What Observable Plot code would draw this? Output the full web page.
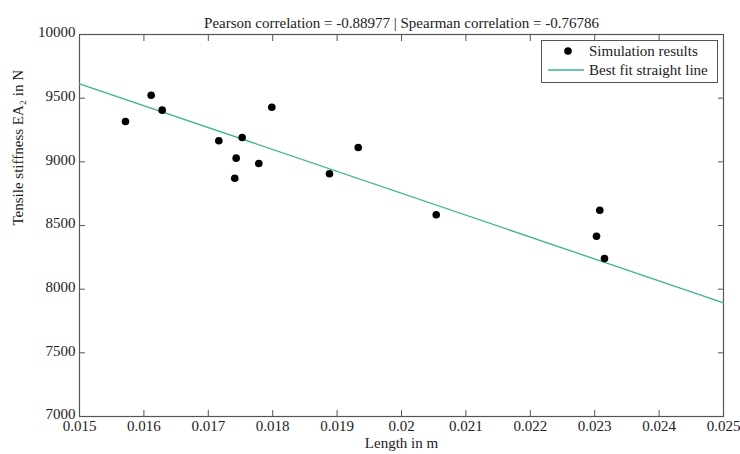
<!DOCTYPE html>
<html>
<head>
<meta charset="utf-8">
<script src="https://cdn.jsdelivr.net/npm/d3@7"></script>
<script src="https://cdn.jsdelivr.net/npm/@observablehq/plot@0.6"></script>
<style>
  html, body { margin: 0; padding: 0; background: #fff; }
  #wrap { position: relative; width: 740px; height: 454px; font-family: "Liberation Serif", "DejaVu Serif", serif; }
  #wrap svg text { font-family: "Liberation Serif", "DejaVu Serif", serif; }
  #legend { position: absolute; left: 541px; top: 40px; width: 175px; height: 41px; border: 1px solid #555; background: #fff; font-size: 15px; color: #222; }
  #legend .row { position: absolute; left: 0; height: 20px; display: flex; align-items: center; }
  #legend svg { display: block; }
</style>
</head>
<body>
<div id="wrap"></div>
<script>
// Data
const lengthM = [0.015714, 0.016113, 0.016284, 0.017163, 0.017526, 0.017433, 0.017411, 0.017784, 0.017986, 0.018882, 0.019328, 0.020539, 0.023079, 0.023028, 0.023152];
const stiffnessN = [9317, 9523, 9406, 9165, 9191, 9029, 8871, 8987, 9429, 8906, 9113, 8584, 8620, 8416, 8241];
const fitX = [0.015, 0.025];
const fitY = [9613, 7893];
const xTicks = [0.015, 0.016, 0.017, 0.018, 0.019, 0.02, 0.021, 0.022, 0.023, 0.024, 0.025];
const yTicks = [7000, 7500, 8000, 8500, 9000, 9500, 10000];
const titleText = "Pearson correlation = -0.88977 | Spearman correlation = -0.76786";
const xLabel = "Length in m";
const yLabel = "Tensile stiffness EA\u2082 in N";
const seriesNames = ["Simulation results", "Best fit straight line"];

const fitColor = "#3bb393";
const points = lengthM.map((x, i) => ({x, y: stiffnessN[i]}));
const fit = fitX.map((x, i) => ({x, y: fitY[i]}));

const fmtX = d => String(+d.toFixed(3));
const fmtY = d => String(d);

const chart = Plot.plot({
  width: 740,
  height: 454,
  marginLeft: 79,
  marginRight: 17,
  marginTop: 34,
  marginBottom: 38,
  style: {fontFamily: "'Liberation Serif', 'DejaVu Serif', serif", fontSize: "15px", color: "#222", background: "#fff"},
  x: {domain: [0.015, 0.025]},
  y: {domain: [7000, 10000]},
  marks: [
    Plot.frame({stroke: "#555", strokeWidth: 1.2}),
    Plot.axisX({ticks: xTicks, tickSize: -6, tickPadding: 10, tickFormat: fmtX, label: null, stroke: "#555", fill: "#222", fontSize: 15}),
    Plot.axisX({anchor: "top", ticks: xTicks, tickSize: -6, tickFormat: () => "", label: null, stroke: "#555"}),
    Plot.axisY({ticks: yTicks, tickSize: -6, tickFormat: () => "", label: null, stroke: "#555"}),
    Plot.axisY({ticks: yTicks, tickSize: 0, tickPadding: 4, dy: -2, tickFormat: fmtY, label: null, fill: "#222", fontSize: 15}),
    Plot.axisY({anchor: "right", ticks: yTicks, tickSize: -6, tickFormat: () => "", label: null, stroke: "#555"}),
    Plot.line(fit, {x: "x", y: "y", stroke: fitColor, strokeWidth: 1.3}),
    Plot.dot(points, {x: "x", y: "y", r: 3.8, fill: "#000", stroke: null}),
    Plot.text([titleText], {frameAnchor: "top", dy: -17, text: d => d, fontSize: 15, fill: "#222"}),
    Plot.text([xLabel], {frameAnchor: "bottom", dy: 31, text: d => d, fontSize: 15, fill: "#222"}),
    Plot.text([yLabel], {frameAnchor: "left", dx: -61, rotate: -90, text: d => d, fontSize: 15, fill: "#222"})
  ]
});

const wrap = document.getElementById("wrap");
wrap.appendChild(chart);

// Legend overlay
const legend = document.createElement("div");
legend.id = "legend";
legend.innerHTML = `
  <div class="row" style="top:0px">
    <svg width="45" height="20"><circle cx="26" cy="10" r="3.8" fill="#000"></circle></svg>
    <span style="margin-left:2px">${seriesNames[0]}</span>
  </div>
  <div class="row" style="top:19px">
    <svg width="45" height="20"><line x1="6" x2="42" y1="10" y2="10" stroke="${fitColor}" stroke-width="1.5"></line></svg>
    <span style="margin-left:2px">${seriesNames[1]}</span>
  </div>`;
wrap.appendChild(legend);
</script>
</body>
</html>
